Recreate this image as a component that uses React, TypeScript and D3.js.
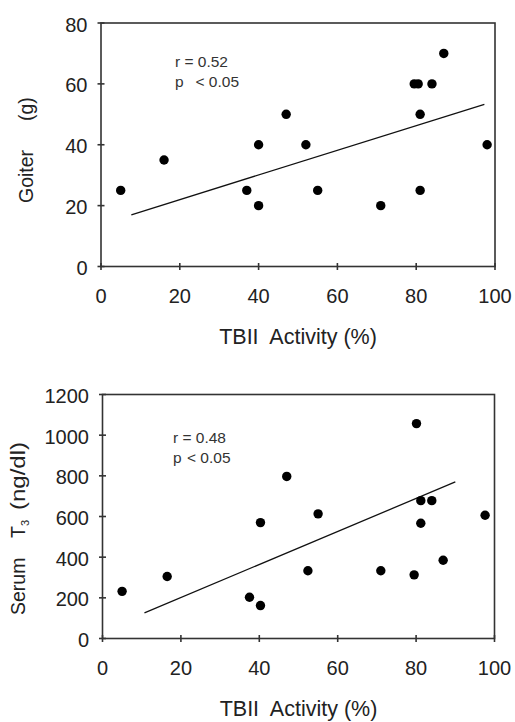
import React from "react";
import * as d3 from "d3";

// ---- data ----
const tbiiGoiter = [5, 16, 37, 40, 40, 47, 52, 55, 71, 79.5, 80.5, 84, 81, 81, 87, 98];
const goiterValues = [25, 35, 25, 40, 20, 50, 40, 25, 20, 60, 60, 60, 50, 25, 70, 40];
const goiterFitX = [7.7, 97.3];
const goiterFitY = [17, 53.3];
const goiterStats = ["r = 0.52", "p", "< 0.05"];

const tbiiT3 = [5, 16.5, 37.5, 40.3, 40.3, 47, 52.4, 55, 71, 79.5, 80.1, 81.2, 84, 81.2, 86.9, 97.6];
const t3Values = [232, 305, 203, 162, 570, 797, 333, 613, 333, 313, 1057, 678, 678, 567, 385, 606];
const t3FitX = [10.7, 90];
const t3FitY = [126, 770];
const t3Stats = ["r = 0.48", "p", "< 0.05"];

const xTicks = [0, 20, 40, 60, 80, 100];
const goiterTicks = [0, 20, 40, 60, 80];
const t3Ticks = [0, 200, 400, 600, 800, 1000, 1200];
const xTitle = "TBII  Activity (%)";

const FONT = "'Liberation Sans', Arial, Helvetica, sans-serif";
const INK = "#222";
const AXIS = "#333";

type PanelProps = {
  xs: number[];
  ys: number[];
  fitX: number[];
  fitY: number[];
  stats: string[];
  yTicks: number[];
  box: { left: number; right: number; top: number; bottom: number };
  statPos: { x: number; y: number; ltX: number };
  yTitle: React.ReactNode;
};

function Panel({ xs, ys, fitX, fitY, stats, yTicks, box, statPos, yTitle }: PanelProps) {
  const x = d3.scaleLinear().domain([0, 100]).range([box.left, box.right]);
  const y = d3
    .scaleLinear()
    .domain([0, yTicks[yTicks.length - 1]])
    .range([box.bottom, box.top]);
  const line = d3
    .line<number>()
    .x((d) => x(d))
    .y((_, i) => y(fitY[i]));
  const tk = 3.5;
  return (
    <g>
      <rect
        x={box.left}
        y={box.top}
        width={box.right - box.left}
        height={box.bottom - box.top}
        fill="none"
        stroke={AXIS}
        strokeWidth={1.6}
      />
      {xTicks.map((t) => (
        <g key={"x" + t}>
          <line x1={x(t)} x2={x(t)} y1={box.bottom - tk} y2={box.bottom + tk} stroke={AXIS} strokeWidth={1.6} />
          <text x={x(t)} y={box.bottom + 36.5} textAnchor="middle" fontSize={20} fill={INK}>
            {t}
          </text>
        </g>
      ))}
      {yTicks.map((t) => (
        <g key={"y" + t}>
          <line x1={box.left - tk} x2={box.left + tk} y1={y(t)} y2={y(t)} stroke={AXIS} strokeWidth={1.6} />
          <text x={box.left - 13.5} y={y(t) + 8.5} textAnchor="end" fontSize={20} fill={INK}>
            {t}
          </text>
        </g>
      ))}
      <path d={line(fitX) || ""} fill="none" stroke="#111" strokeWidth={1.3} />
      {xs.map((v, i) => (
        <circle key={i} cx={x(v)} cy={y(ys[i])} r={4.7} fill="#000" />
      ))}
      <text x={statPos.x} y={statPos.y} fontSize={15.5} fill="#333">
        {stats[0]}
      </text>
      <text x={statPos.x} y={statPos.y + 19.5} fontSize={15.5} fill="#333">
        {stats[1]}
      </text>
      <text x={statPos.ltX} y={statPos.y + 19.5} fontSize={15.5} fill="#333">
        {stats[2]}
      </text>
      <text
        x={(box.left + box.right) / 2}
        y={box.bottom + 77}
        textAnchor="middle"
        fontSize={21.5}
        fill={INK}
        style={{ whiteSpace: "pre" }}
      >
        {xTitle}
      </text>
      {yTitle}
    </g>
  );
}

export default function App() {
  const topBox = { left: 101, right: 495, top: 23, bottom: 266.5 };
  const botBox = { left: 102.5, right: 494.5, top: 394.5, bottom: 638.5 };
  return (
    <svg
      width={515}
      height={722}
      style={{ position: "absolute", left: 0, top: 0, background: "#fff" }}
      fontFamily={FONT}
    >
      <rect width={515} height={722} fill="#fff" />
      <Panel
        xs={tbiiGoiter}
        ys={goiterValues}
        fitX={goiterFitX}
        fitY={goiterFitY}
        stats={goiterStats}
        yTicks={goiterTicks}
        box={topBox}
        statPos={{ x: 175, y: 67.3, ltX: 195.5 }}
        yTitle={
          <g fontSize={19.5} fill={INK}>
            <text transform="translate(33,203) rotate(-90)">Goiter</text>
            <text transform="translate(33,121) rotate(-90)">(g)</text>
          </g>
        }
      />
      <Panel
        xs={tbiiT3}
        ys={t3Values}
        fitX={t3FitX}
        fitY={t3FitY}
        stats={t3Stats}
        yTicks={t3Ticks}
        box={botBox}
        statPos={{ x: 173, y: 443.3, ltX: 187 }}
        yTitle={
          <g fontSize={19.5} fill={INK}>
            <text transform="translate(25,615) rotate(-90)">Serum</text>
            <text transform="translate(25,538) rotate(-90)">T</text>
            <text transform="translate(29,526) rotate(-90)" fontSize={11}>3</text>
            <text transform="translate(25,510) rotate(-90)" textLength={68} lengthAdjust="spacingAndGlyphs">
              (ng/dl)
            </text>
          </g>
        }
      />
    </svg>
  );
}
